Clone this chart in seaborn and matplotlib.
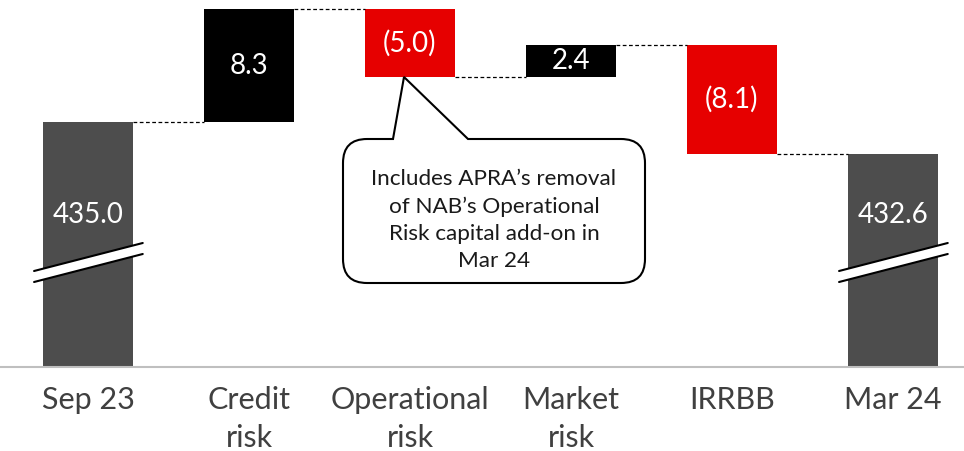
import numpy as np
import matplotlib
matplotlib.use("Agg")
import matplotlib.pyplot as plt
from matplotlib.path import Path
from matplotlib.patches import PathPatch, Polygon
import seaborn as sns

# ---- data ----
categories = ["Sep 23", "Credit\nrisk", "Operational\nrisk", "Market\nrisk", "IRRBB", "Mar 24"]
start_value = 435.0
changes = [8.3, -5.0, 2.4, -8.1]
end_value = 432.6
labels = ["435.0", "8.3", "(5.0)", "2.4", "(8.1)", "432.6"]
axis_base = 416.85      # broken-axis base value
axis_top = 444.0
callout_text = "Includes APRA\u2019s removal\nof NAB\u2019s Operational\nRisk capital add-on in\nMar 24"

GREY = "#4d4d4d"
BLACK = "#000000"
RED = "#e60000"

# waterfall geometry from the data
bottoms, heights, colors = [], [], []
bottoms.append(axis_base); heights.append(start_value - axis_base); colors.append(GREY)
running = start_value
levels = [start_value]
for c in changes:
    new = running + c
    bottoms.append(min(running, new)); heights.append(abs(c))
    colors.append(BLACK if c > 0 else RED)
    running = new
    levels.append(running)
bottoms.append(axis_base); heights.append(end_value - axis_base); colors.append(GREY)

sns.set_theme(style="white")
plt.rcParams["font.family"] = ["Lato", "DejaVu Sans"]

W, H = 964, 451
fig = plt.figure(figsize=(W / 100, H / 100), dpi=100)
ax_bottom_px = 367
ax = fig.add_axes([0, 1 - ax_bottom_px / H, 1, ax_bottom_px / H])

sns.barplot(x=categories, y=heights, bottom=bottoms, color=GREY, width=0.553,
            ax=ax, saturation=1, errorbar=None)
for p, col in zip(ax.patches, colors):
    p.set_facecolor(col)
    p.set_edgecolor("none")

x0 = -88 / 161
ax.set_xlim(x0, x0 + W / 161)
ax.set_ylim(axis_base, axis_top)

# connectors
hw = 0.553 / 2
for i, lvl in enumerate(levels):
    ax.plot([i + hw, i + 1 - hw], [lvl, lvl], ls=(0, (3, 2)), color="black", lw=0.9, zorder=1)

# value labels
for i, (b, h, lab) in enumerate(zip(bottoms, heights, labels)):
    if i in (0, len(labels) - 1):
        y = axis_base + (367 - 215) / 13.5
    else:
        y = b + h / 2
    ax.text(i, y, lab, ha="center", va="center", color="white", fontsize=20)

# axis break marks
def px2v(py):
    return axis_base + (ax_bottom_px - py) / (ax_bottom_px / (axis_top - axis_base))

for i in (0, len(categories) - 1):
    xl, xr = i - 0.335, i + 0.34
    yl1, yl2 = px2v(271), px2v(282)
    yr1, yr2 = px2v(243), px2v(254)
    poly = Polygon([[xl, yl1], [xr, yr1], [xr, yr2], [xl, yl2]], closed=True,
                   facecolor="white", edgecolor="none", zorder=3, clip_on=False)
    ax.add_patch(poly)
    ax.plot([xl, xr], [yl1, yr1], color="black", lw=1.5, zorder=4, clip_on=False)
    ax.plot([xl, xr], [yl2, yr2], color="black", lw=1.5, zorder=4, clip_on=False)

# axes styling
for s in ["top", "left", "right"]:
    ax.spines[s].set_visible(False)
ax.spines["bottom"].set_color("#bfbfbf")
ax.spines["bottom"].set_linewidth(1.5)
ax.set_yticks([])
ax.tick_params(axis="x", length=0, pad=14, labelsize=22, labelcolor="#404040")
for t in ax.get_xticklabels():
    t.set_linespacing(1.42)
ax.set_xlabel(""); ax.set_ylabel("")

# callout (figure pixel coords, y from top)
def fp(x, y):
    return (x / W, 1 - y / H)

L, R, T, B, r = 343, 645, 139, 283, 24
verts = [
    (393, T), (404, 77), (468, T),
    (R - r, T), (R, T), (R, T + r),
    (R, B - r), (R, B), (R - r, B),
    (L + r, B), (L, B), (L, B - r),
    (L, T + r), (L, T), (L + r, T),
    (393, T),
]
codes = [Path.MOVETO, Path.LINETO, Path.LINETO,
         Path.LINETO, Path.CURVE3, Path.CURVE3,
         Path.LINETO, Path.CURVE3, Path.CURVE3,
         Path.LINETO, Path.CURVE3, Path.CURVE3,
         Path.LINETO, Path.CURVE3, Path.CURVE3,
         Path.CLOSEPOLY]
path = Path([fp(*v) for v in verts], codes)
fig.patches.append(PathPatch(path, transform=fig.transFigure, facecolor="white",
                             edgecolor="black", lw=1.5, zorder=5))
fig.text(*fp(494, 220), callout_text, ha="center", va="center", fontsize=16.2,
         color="#1a1a1a", linespacing=1.43, zorder=6)

fig.savefig("out.png", dpi=100)
